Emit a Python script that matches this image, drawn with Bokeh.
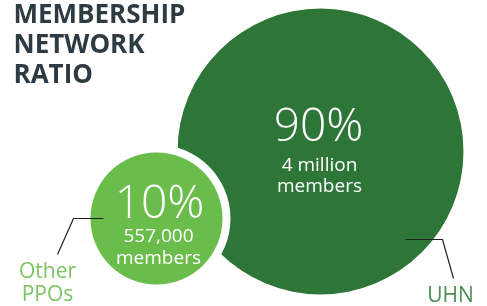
from bokeh.plotting import figure
from bokeh.models import Range1d
from bokeh.core.properties import value
from bokeh.embed import file_html
from bokeh.resources import INLINE

# ---- data ----
categories = ["UHN", "Other PPOs"]
shares = [90, 10]
member_labels = [["4 million", "members"], ["557,000", "members"]]
title_lines = ["MEMBERSHIP", "NETWORK", "RATIO"]

# ---- layout / style (pixel coordinates of the page) ----
W, H = 487, 306
centers_x = [320, 156]
centers_y = [151, 218]
radii = [143, 66]
fills = ["#2e7638", "#6abd4a"]
label_colors = ["#4f8d57", "#7dc462"]

p = figure(width=W, height=H, output_backend="svg", toolbar_location=None,
           x_range=Range1d(0, W), y_range=Range1d(H, 0),
           min_border=0, outline_line_color=None, background_fill_color="white",
           border_fill_color="white",
           styles={"position": "fixed", "left": "0px", "top": "0px"})
p.axis.visible = False
p.grid.visible = False

REG = value("Open Sans")
LIGHT = value("Open Sans Light")

def sh(y, fs):
    # compensate for the renderer's baseline placement
    return [v - 0.35 * fs for v in y]

# big circle
p.circle(x=[centers_x[0]], y=[centers_y[0]], radius=radii[0], fill_color=fills[0], line_color=None)
# white ring round small circle
p.circle(x=[centers_x[1]], y=[centers_y[1]], radius=radii[1] + 8, fill_color="white", line_color=None)
# small circle
p.circle(x=[centers_x[1]], y=[centers_y[1]], radius=radii[1], fill_color=fills[1], line_color=None)

# leader lines
p.line(x=[405, 442, 453], y=[239, 239, 278], line_color="#222222", line_width=1.2)
p.line(x=[103, 73, 57], y=[218, 218, 254], line_color="#222222", line_width=1.2)

# percentage texts
pct = [f"{s}%" for s in shares]
p.text(x=[318, 159], y=sh([139, 216], 46), text=pct, text_font=LIGHT, text_font_size="46px",
       text_color="white", text_align="center", text_baseline="alphabetic")
# member texts
p.text(x=[319, 319], y=sh([170, 191], 19), text=member_labels[0], text_font=REG, text_font_size="19px",
       text_color="white", text_align="center", text_baseline="alphabetic")
p.text(x=[158, 158], y=sh([242, 263], 19), text=member_labels[1], text_font=REG, text_font_size="19px",
       text_color="white", text_align="center", text_baseline="alphabetic")

# category labels
p.text(x=[450], y=sh([301], 21), text=[categories[0]], text_font=REG, text_font_size="21px",
       text_color=label_colors[0], text_align="center", text_baseline="alphabetic")
p.text(x=[47, 47], y=sh([277, 300], 21), text=categories[1].split(" "), text_font=REG, text_font_size="21px",
       text_color=label_colors[1], text_align="center", text_baseline="alphabetic")

# title
p.text(x=[13, 13, 13], y=sh([22, 52, 82], 26), text=title_lines, text_font=REG, text_font_size="26px",
       text_font_style="bold", text_color="#2f3b42", text_align="left", text_baseline="alphabetic")

open("out.html", "w").write(file_html(p, INLINE))
